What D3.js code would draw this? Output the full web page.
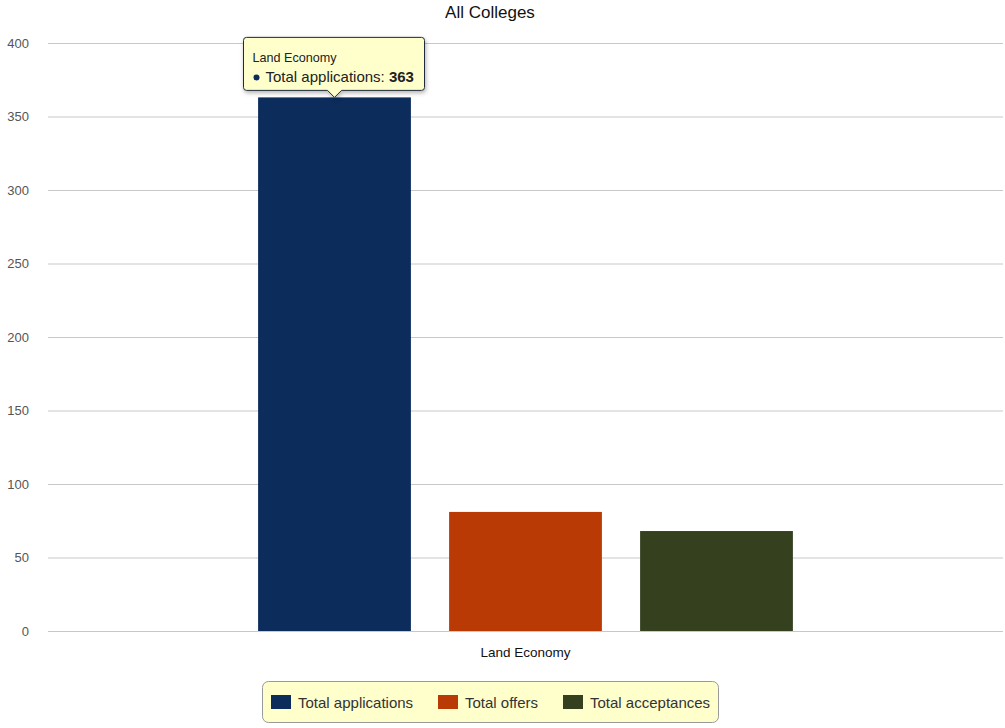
<!DOCTYPE html>
<html>
<head>
<meta charset="utf-8">
<script src="https://cdn.jsdelivr.net/npm/d3@7"></script>
<style>
body { margin: 0; background: #fff; font-family: "Liberation Sans", Arial, sans-serif; }
</style>
</head>
<body>
<div id="a"></div>
<script>
// data
var categories = ["Land Economy"];
var seriesNames = ["Total applications", "Total offers", "Total acceptances"];
var seriesValues = [[363], [81], [68]];
var colors = ["#0c2c5c", "#b93a05", "#35401f"];
var yTicks = [0, 50, 100, 150, 200, 250, 300, 350, 400];

var W = 1005, H = 728;
var m = {left: 48, right: 2, top: 43, bottom: 97};

svg = d3.select("#a").append("svg")
	.attr("width", W)
	.attr("height", H);

var y = d3.scaleLinear().domain([0, 400]).range([H - m.bottom, m.top]);
var x0 = d3.scaleBand().domain(categories).range([m.left, W - m.right]);
var x1 = d3.scaleBand().domain(seriesNames).range([x0.bandwidth() * 0.22, x0.bandwidth() * 0.78]).paddingInner(0.2);

// title
svg.append("text")
	.attr("x", 490).attr("y", 18)
	.attr("text-anchor", "middle")
	.style("font-size", "17px").style("fill", "#111")
	.text("All Colleges");

// gridlines + y labels
var yAxis = svg.append("g")
	.attr("transform", "translate(" + m.left + ",0)")
	.call(d3.axisLeft(y).tickValues(yTicks).tickSize(-(W - m.left - m.right)).tickPadding(19));
yAxis.select(".domain").remove();
yAxis.selectAll(".tick line").attr("stroke", "#c8c8c8");
yAxis.selectAll(".tick text").style("font-size", "13px").style("fill", "#555")
	.style("font-family", "Liberation Sans, Arial, sans-serif");

// bars
var g = svg.selectAll("g.cat")
	.data(categories)
	.enter().append("g")
	.attr("class", "cat")
	.attr("transform", function(d){ return "translate(" + x0(d) + ",0)"; });

g.selectAll("rect")
	.data(function(d, ci){ return seriesNames.map(function(s, si){ return {s: s, v: seriesValues[si][ci], c: colors[si]}; }); })
	.enter().append("rect")
	.attr("x", function(d){ return x1(d.s); })
	.attr("width", x1.bandwidth())
	.attr("y", function(d){ return y(d.v); })
	.attr("height", function(d){ return y(0) - y(d.v); })
	.attr("fill", function(d){ return d.c; });

// x axis baseline + label
svg.append("line")
	.attr("x1", m.left).attr("x2", W - m.right)
	.attr("y1", y(0) + 0.5).attr("y2", y(0) + 0.5)
	.attr("stroke", "#c8c8c8");
svg.selectAll("text.xl")
	.data(categories)
	.enter().append("text")
	.attr("class", "xl")
	.attr("x", function(d){ return x0(d) + x0.bandwidth() / 2; })
	.attr("y", y(0) + 26)
	.attr("text-anchor", "middle")
	.style("font-size", "13.5px").style("fill", "#111")
	.text(function(d){ return d; });

// tooltip for first bar
var bx = x0(categories[0]) + x1(seriesNames[0]) + x1.bandwidth() / 2;
var by = y(seriesValues[0][0]);
var tw = 181, th = 53, tx = bx - 91, ty = by - 60;
var tip = svg.append("g");
tip.append("path")
	.attr("d", "M" + (tx + 3) + "," + ty + " H" + (tx + tw - 3) + " Q" + (tx + tw) + "," + ty + " " + (tx + tw) + "," + (ty + 3)
		+ " V" + (ty + th - 3) + " Q" + (tx + tw) + "," + (ty + th) + " " + (tx + tw - 3) + "," + (ty + th)
		+ " H" + (bx + 7) + " L" + bx + "," + (ty + th + 7) + " L" + (bx - 7) + "," + (ty + th)
		+ " H" + (tx + 3) + " Q" + tx + "," + (ty + th) + " " + tx + "," + (ty + th - 3)
		+ " V" + (ty + 3) + " Q" + tx + "," + ty + " " + (tx + 3) + "," + ty + " Z")
	.attr("fill", "#ffffcc")
	.attr("stroke", "#1d2b3a")
	.attr("stroke-width", 1)
	.style("filter", "drop-shadow(1px 2px 2px rgba(0,0,0,0.3))");
tip.append("text")
	.attr("x", tx + 9).attr("y", ty + 25)
	.style("font-size", "12.6px").style("fill", "#222")
	.text(categories[0]);
tip.append("circle")
	.attr("cx", tx + 13).attr("cy", ty + 40).attr("r", 3)
	.attr("fill", colors[0]);
var t2 = tip.append("text")
	.attr("x", tx + 22).attr("y", ty + 45)
	.style("font-size", "15px").style("fill", "#222");
t2.append("tspan").text(seriesNames[0] + ": ");
t2.append("tspan").style("font-weight", "bold").text(seriesValues[0][0]);

// legend
var lg = svg.append("g").attr("transform", "translate(262,681)");
lg.append("rect")
	.attr("x", 0.5).attr("y", 0.5).attr("width", 456).attr("height", 41)
	.attr("rx", 6).attr("ry", 6)
	.attr("fill", "#ffffcc").attr("stroke", "#999");
var legX = [9, 176, 301];
var items = lg.selectAll("g.li")
	.data(seriesNames)
	.enter().append("g")
	.attr("class", "li")
	.attr("transform", function(d, i){ return "translate(" + legX[i] + ",14)"; });
items.append("rect")
	.attr("width", 20).attr("height", 14)
	.attr("fill", function(d, i){ return colors[i]; });
items.append("text")
	.attr("x", 27).attr("y", 12.5)
	.style("font-size", "15px").style("fill", "#333")
	.text(function(d){ return d; });
</script>
</body>
</html>
